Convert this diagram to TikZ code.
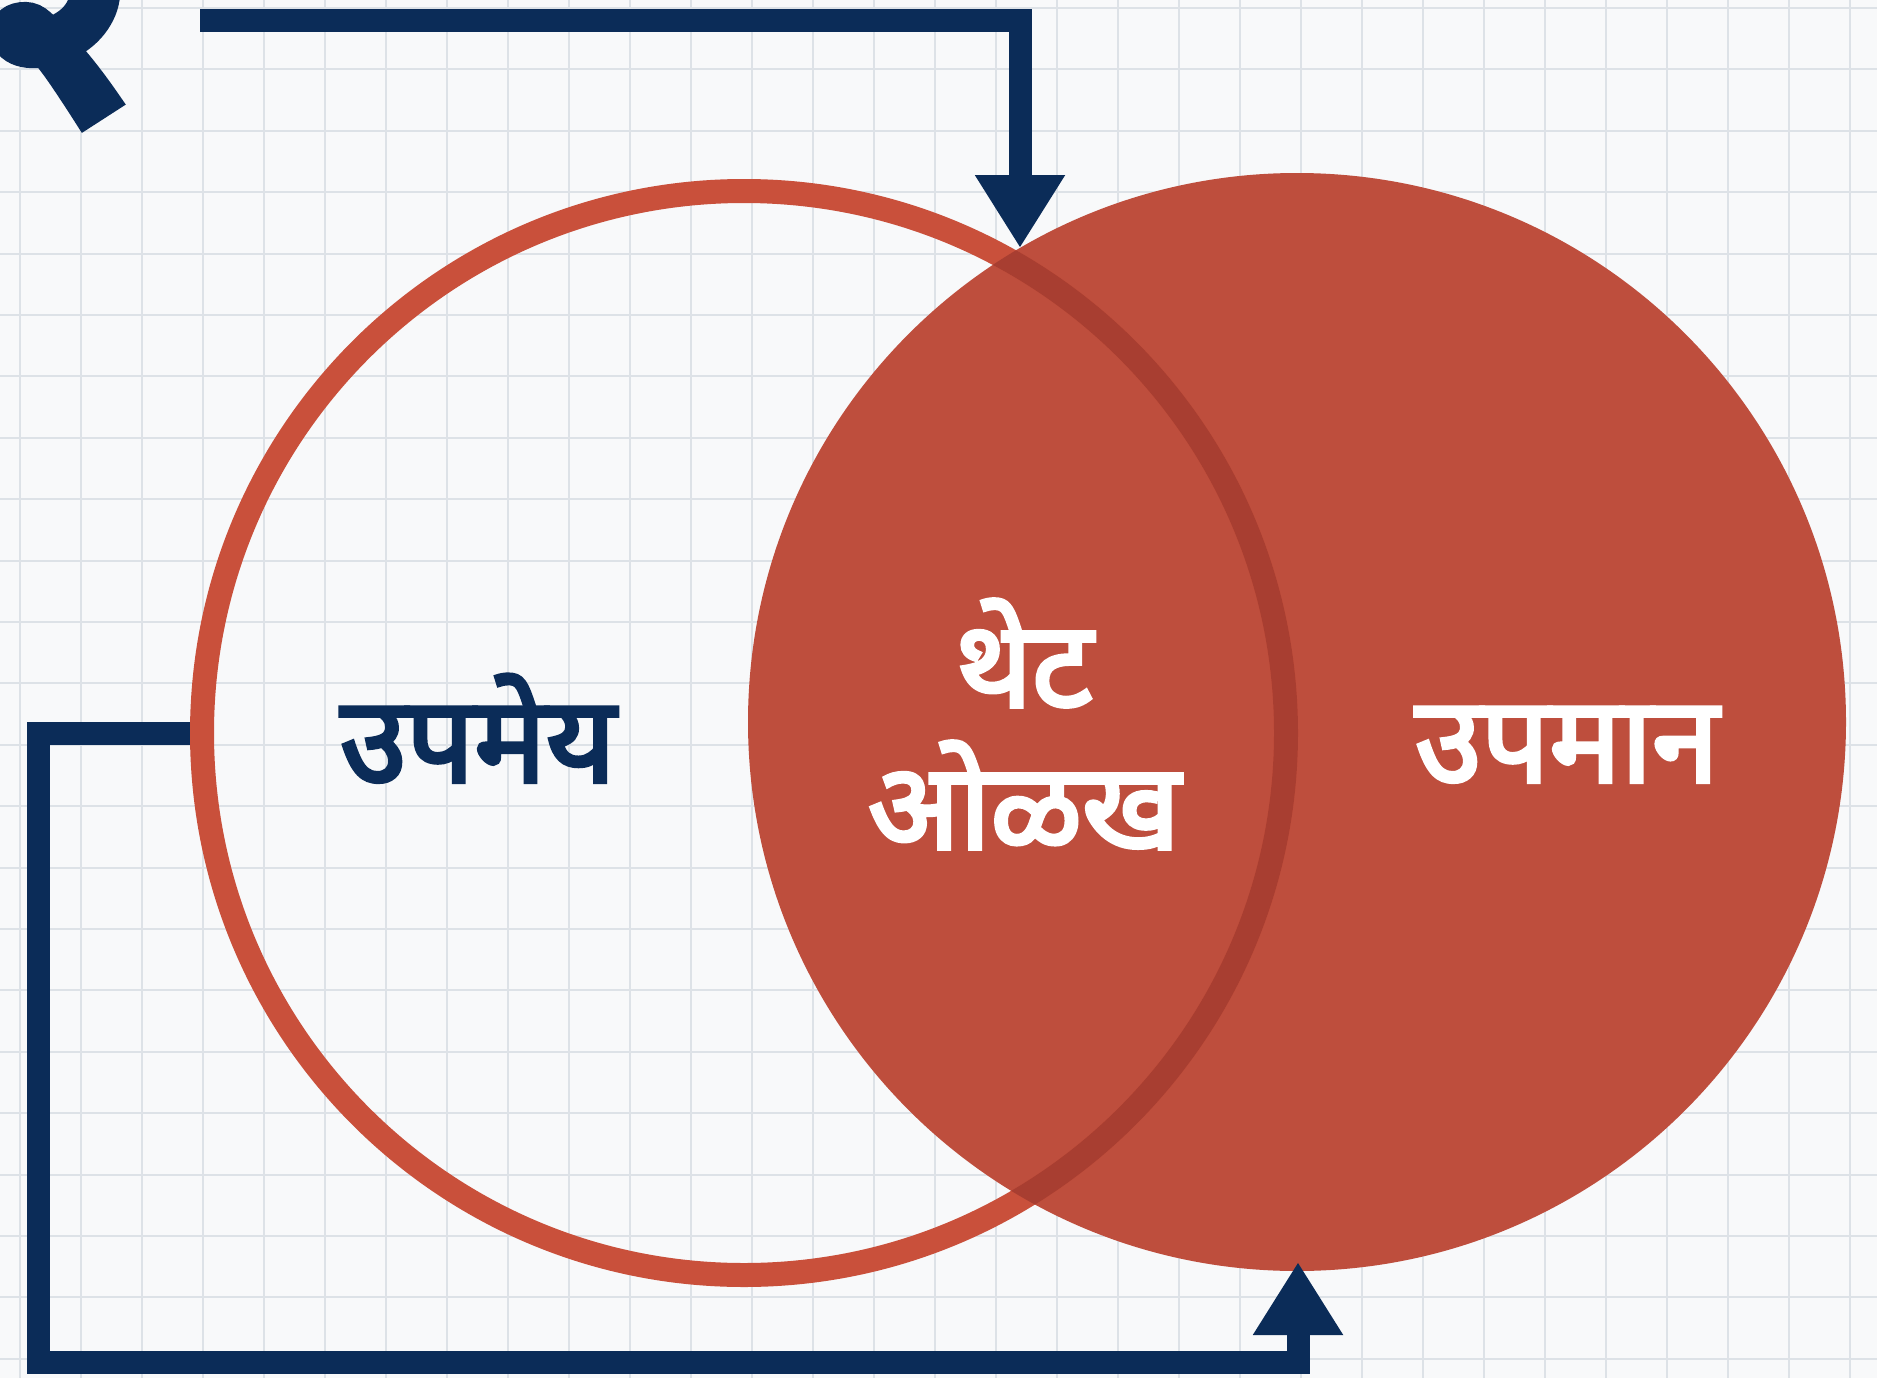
\documentclass[tikz,border=0pt]{standalone}
\usepackage{fontspec}
\newfontfamily\deva[Script=Devanagari, FakeBold=3.5]{Noto Sans}
\newfontfamily\devanum[Script=Devanagari, FakeBold=9]{Noto Sans}
\usetikzlibrary{arrows.meta}
\definecolor{navy}{HTML}{0B2C58}
\definecolor{terra}{HTML}{BE4E3D}
\definecolor{ringred}{HTML}{C9503B}
\definecolor{bandred}{HTML}{A83E31}
\definecolor{gridc}{HTML}{DDE2E7}
\definecolor{paper}{HTML}{F8F9FA}
\begin{document}
\begin{tikzpicture}[x=1pt,y=-1pt,
  conn/.style={draw=navy, line width=23pt, line join=miter, -{Triangle[width=85pt,length=73pt]}},
  gridline/.style={gridc, line width=2pt},
  lbl/.style={font=\deva\fontsize{120}{142}\selectfont, inner sep=0pt, align=center}]
\useasboundingbox (0,0) rectangle (1877,1378);
\clip (0,0) rectangle (1877,1378);
\fill[paper] (0,0) rectangle (1877,1378);
\foreach \i in {0,...,30} \draw[gridline] (20+61*\i,0) -- (20+61*\i,1378);
\foreach \j in {0,...,22} \draw[gridline] (0,8+61.4*\j) -- (1877,8+61.4*\j);
% circles
\node[circle, fill=terra, minimum size=1098pt, inner sep=0pt] (upamana) at (1297,722) {};
\node[circle, draw=ringred, line width=24pt, minimum size=1084pt, inner sep=0pt] (upameya) at (744,733) {};
\begin{scope}
  \clip (1297,722) circle (549pt);
  \draw[bandred, line width=24pt] (744,733) circle (542pt);
\end{scope}
% heading digit
\node[text=navy, font=\devanum\fontsize{290}{290}\selectfont, anchor=base west, inner sep=0pt, rotate=8] (num) at (-4,123) {२};
% connectors
\coordinate (topstart) at (200,21);
\coordinate (topmeet) at (1020,248);
\coordinate (lowcorner) at (38,1362);
\coordinate (botmeet) at (1298,1262);
\draw[conn] (topstart) -| (topmeet);
\draw[conn] (upameya.west) -| (lowcorner) -| (botmeet);
% labels
\node[lbl, text=navy, anchor=base] (lblA) at (478,782) {उपमेय};
\node[lbl, text=white, anchor=base] (lblB) at (1567,782) {उपमान};
\node[lbl, text=white] (lblC) at (1024,724) {थेट\\ओळख};
\end{tikzpicture}
\end{document}
